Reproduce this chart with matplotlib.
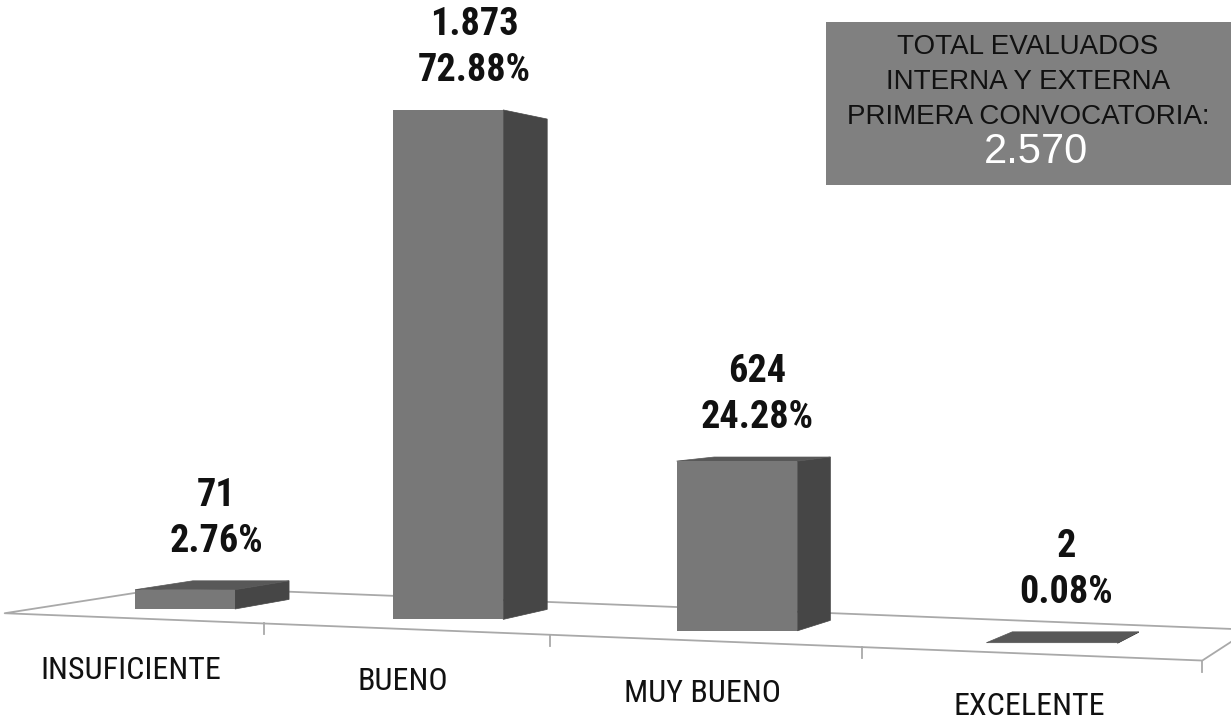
import numpy as np
import matplotlib
matplotlib.use("Agg")
import matplotlib.pyplot as plt
from matplotlib.patches import Polygon, Rectangle
from matplotlib.lines import Line2D
from matplotlib import font_manager as fm

# ---------------- data ----------------
categories = ["INSUFICIENTE", "BUENO", "MUY BUENO", "EXCELENTE"]
counts = [71, 1873, 624, 2]
count_labels = ["71", "1.873", "624", "2"]
percents = [2.76, 72.88, 24.28, 0.08]
box_lines = ["TOTAL EVALUADOS", "INTERNA Y EXTERNA", "PRIMERA CONVOCATORIA:"]
total_label = "2.570"

# ---------------- style / geometry ----------------
W, H = 1231, 720
FRONT, SIDE, TOP = "#787878", "#464646", "#585858"
FLOOR = "#a9a9a9"
BOX = "#808080"
K = 0.272            # px per count unit
A_SC, B_SC = 250.0, 13.0   # perspective-like x scale
FLOOR_SLOPE = 0.0395  # px drop per px to the right
V = np.array([1676.0, H - 353.0])  # vanishing point (display coords)
T_DEPTH = 0.0375
T_FRONT, T_BACK = -0.036, 0.068

avail = {f.name for f in fm.fontManager.ttflist}
NARROW, VAL_FS, CAT_FS = None, 24, 19.5
for cand in ["Liberation Sans Narrow", "Roboto Condensed", "Archivo Narrow",
             "PT Sans Narrow", "IBM Plex Sans Condensed", "Encode Sans Condensed"]:
    if cand in avail:
        NARROW, VAL_FS, CAT_FS = cand, 27.5, 23
        break
if NARROW is None:
    NARROW = "Liberation Sans" if "Liberation Sans" in avail else "DejaVu Sans"
REG = "Liberation Sans" if "Liberation Sans" in avail else "DejaVu Sans"


def fwd(x):
    x = np.asarray(x, float)
    return A_SC * x + B_SC * x ** 2


def inv(u):
    u = np.asarray(u, float)
    return (-A_SC + np.sqrt(np.maximum(A_SC ** 2 + 4 * B_SC * u, 0))) / (2 * B_SC)


fig = plt.figure(figsize=(W / 100, H / 100), dpi=100)
fig.patch.set_facecolor("white")
ax = fig.add_axes([0, 0, 1, 1])
ax.set_xscale("function", functions=(fwd, inv))
ax.set_xlim(float(inv(-184.5)), float(inv(W - 184.5)))
ax.set_ylim(-(H - 609) / K, 609 / K)
ax.axis("off")

to_ax = ax.transAxes.inverted().transform


def disp(pts):
    return ax.transData.transform(np.asarray(pts, float))


def persp(p, t):
    return p + t * (V - p)


def base_of(xd):
    return -FLOOR_SLOPE * fwd(xd) / K


x = np.arange(len(categories))

# ---------------- floor ----------------
bx = np.array([x[0] - 0.5, x[-1] + 0.5])
bpts = disp(np.column_stack([bx, base_of(bx)]))
fl, fr = persp(bpts[0], T_FRONT), persp(bpts[1], T_FRONT)
bl_, br_ = persp(bpts[0], T_BACK), persp(bpts[1], T_BACK)
outline = np.array([bl_, fl, fr, br_, bl_])
o = to_ax(outline)
ax.add_line(Line2D(o[:, 0], o[:, 1], color=FLOOR, lw=1.3, transform=ax.transAxes, zorder=1))

# ticks on the front edge
tb = x + 0.5
tpts = disp(np.column_stack([tb, base_of(tb)]))
for p in tpts:
    f = persp(p, T_FRONT)
    seg = to_ax(np.array([f, f - np.array([0, 11])]))
    ax.add_line(Line2D(seg[:, 0], seg[:, 1], color=FLOOR, lw=1.3, transform=ax.transAxes, zorder=1))

# ---------------- bars ----------------
bars = ax.bar(x, counts, width=0.40, bottom=base_of(x), color=FRONT, linewidth=0, zorder=4)

for i, rect in enumerate(bars):
    x0, y0 = rect.get_x(), rect.get_y()
    w, h = rect.get_width(), rect.get_height()
    bl, br, tr, tl = disp([(x0, y0), (x0 + w, y0), (x0 + w, y0 + h), (x0, y0 + h)])
    btl, btr, bbr = persp(tl, T_DEPTH), persp(tr, T_DEPTH), persp(br, T_DEPTH)
    side = to_ax(np.array([br, bbr, btr, tr]))
    ax.add_patch(Polygon(side, closed=True, facecolor=SIDE, edgecolor=SIDE, lw=0.5,
                         transform=ax.transAxes, zorder=3))
    if btl[1] > tl[1]:
        top = to_ax(np.array([tl, tr, btr, btl]))
        ax.add_patch(Polygon(top, closed=True, facecolor=TOP, edgecolor=TOP, lw=0.5,
                             transform=ax.transAxes, zorder=3.5))
    # value labels
    lx = (tl[0] + btr[0]) / 2 + 4
    top_y = max(tl[1], btl[1])
    for txt, off in ((f"{percents[i]:.2f}%", 29), (count_labels[i], 75)):
        p = to_ax(np.array([[lx, top_y + off]]))[0]
        ax.text(p[0], p[1], txt, transform=ax.transAxes, ha="center", va="baseline",
                fontsize=VAL_FS, fontweight="bold", family=NARROW, color="#111111", zorder=6)

# category labels
cpts = disp(np.column_stack([x, base_of(x)]))
for i, p in enumerate(cpts):
    f = persp(p, T_FRONT)
    q = to_ax(np.array([[f[0], f[1] - 61]]))[0]
    ax.text(q[0], q[1], categories[i], transform=ax.transAxes, ha="center", va="baseline",
            fontsize=CAT_FS, family=NARROW, color="#111111", zorder=6)

# ---------------- total box ----------------
bx0, bx1 = 826 / W, 1.0
by0, by1 = 1 - 185 / H, 1 - 22 / H
ax.add_patch(Rectangle((bx0, by0), bx1 - bx0, by1 - by0, transform=ax.transAxes,
                       facecolor=BOX, edgecolor="none", zorder=5))
cx = 1028 / W
for j, line in enumerate(box_lines):
    ax.text(cx, 1 - (47 + 35 * j) / H, line, transform=ax.transAxes, ha="center", va="center",
            fontsize=20, family=REG, color="#111111", zorder=6)
ax.text(1036 / W, 1 - 152 / H, total_label, transform=ax.transAxes, ha="center", va="center",
        fontsize=30, family=REG, color="white", zorder=6)

fig.savefig("out.png", dpi=100, facecolor="white")
